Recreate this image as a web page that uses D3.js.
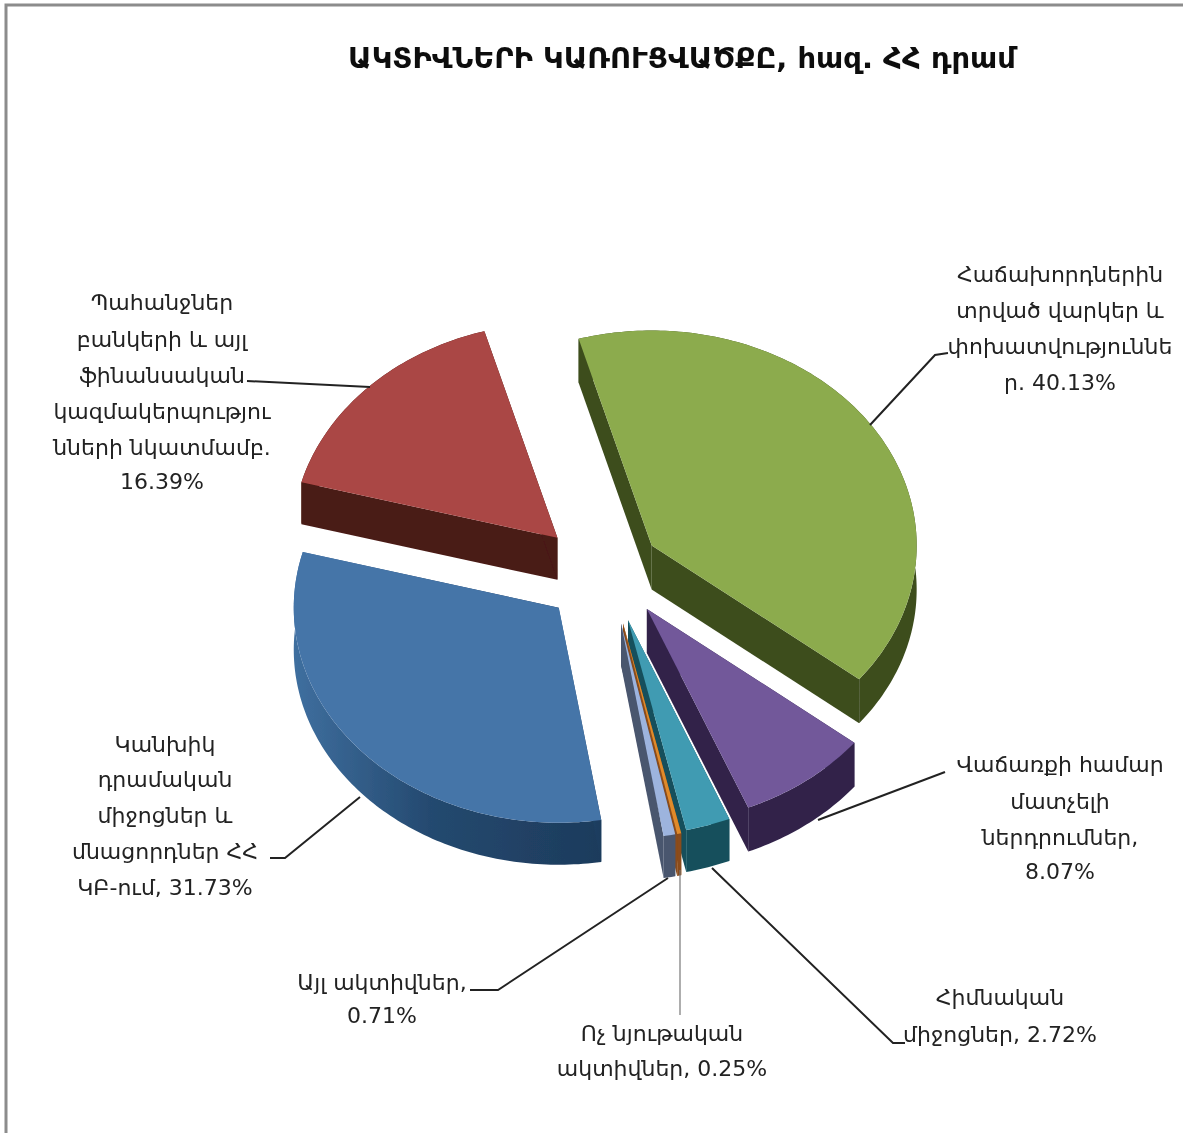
<!DOCTYPE html>
<html><head><meta charset="utf-8">
<script src="https://cdn.jsdelivr.net/npm/d3@7"></script>
<style>html,body{margin:0;padding:0;background:#fff}svg{display:block}
text{font-family:"DejaVu Sans",sans-serif;fill:#222}</style></head>
<body><div id="c"></div>
<script>
// Data
const categories = ["Loans","Trading","Fixed","Intangible","Other","Cash","Banks"];
const shares = [40.13, 8.07, 2.72, 0.25, 0.71, 31.73, 16.39];
const labels = [
 ["Հաճախորդներին","տրված վարկեր և","փոխատվություննե","ր. 40.13%"],
 ["Վաճառքի համար","մատչելի","ներդրումներ,","8.07%"],
 ["Հիմնական","միջոցներ, 2.72%"],
 ["Ոչ նյութական","ակտիվներ, 0.25%"],
 ["Այլ ակտիվներ,","0.71%"],
 ["Կանխիկ","դրամական","միջոցներ և","մնացորդներ ՀՀ","ԿԲ-ում, 31.73%"],
 ["Պահանջներ","բանկերի և այլ","ֆինանսական","կազմակերպությու","նների նկատմամբ.","16.39%"]
];
const titleText = "ԱԿՏԻՎՆԵՐԻ ԿԱՌՈՒՑՎԱԾՔԸ, հազ. ՀՀ դրամ";

// Styling & layout
const topColors = ["#8cab4e","#72589a","#3f9bb2","#e08a2c","#9db4de","#4574a8","#aa4644"];
const sideColors = ["#3d4d1e","#31234a","#14505c","#8a4c1a","#4a566e","url(#blueSide)","#4a1a14"];
const explode = [0.23,0.25,0.25,0.25,0.25,0.22,0.22];
const nudgeX = [1,7,8,9,9,2,-1];
const nudgeY = [-2,-9,-6,-4,-4,1,-4];
const depths = [44,44,42,42,42,42,42];
const drawOrder = [6,0,5,1,2,3,4];
const labelX = [1060,1060,1000,662,382,165,162];
const labelY = [
 [282,318,354,390],[772,809,845,879],[1005,1042],[1041,1076],[990,1023],[752,787,823,859,895],[310,347,383,419,455,489]
];
const leaders = [
 [[870,425],[935,355],[948,353]],
 [[818,820],[945,772]],
 [[712,868],[893,1043],[905,1043]],
 [[680,870],[680,1015]],
 [[668,878],[498,990],[470,990]],
 [[360,797],[285,858],[270,858]],
 [[370,387],[247,381]]
];
const W=1183,H=1133,cx=600,cy=575,rx=265,ry=215;

const svg=d3.select("#c").append("svg").attr("width",W).attr("height",H);
const defs=svg.append("defs");
const g=defs.append("linearGradient").attr("id","blueSide");
g.append("stop").attr("offset","0").attr("stop-color","#3f6f9f");
g.append("stop").attr("offset","0.45").attr("stop-color","#24496f");
g.append("stop").attr("offset","1").attr("stop-color","#1d3b5c");
defs.append("filter").attr("id","soft").append("feGaussianBlur").attr("stdDeviation",0.45);

svg.append("path").attr("d",`M6,${H}V5H${W}`).attr("fill","none").attr("stroke","#8c8c8c").attr("stroke-width",3);

const px=d3.scaleLinear().domain([-1,1]).range([-rx,rx]);
const py=d3.scaleLinear().domain([-1,1]).range([-ry,ry]);
const deg=Math.PI/180;
const pie=d3.pie().sort(null).startAngle(-16*deg).endAngle(344*deg);
const arcs=pie(shares);
const line=d3.line();

const layer=svg.append("g").attr("filter","url(#soft)");
drawOrder.forEach(i=>{
  const a=arcs[i], mid=(a.startAngle+a.endAngle)/2;
  const ox=cx+explode[i]*px(Math.sin(mid))+nudgeX[i], oy=cy-explode[i]*py(Math.cos(mid))+nudgeY[i];
  const pt=t=>[ox+px(Math.sin(t)),oy-py(Math.cos(t))];
  const n=Math.max(3,Math.ceil((a.endAngle-a.startAngle)/deg));
  const rim=d3.range(n+1).map(k=>pt(a.startAngle+(a.endAngle-a.startAngle)*k/n));
  const d=depths[i];
  const down=p=>[p[0],p[1]+d];
  const s=layer.append("g").attr("class","slice");
  const outer=rim.concat(rim.slice().reverse().map(down));
  s.append("path").attr("d",line(outer)+"Z").attr("fill",sideColors[i]);
  [rim[0],rim[n]].forEach(e=>{
    const o=[ox,oy];
    s.append("path").attr("d",line([o,e,down(e),down(o)])+"Z").attr("fill",sideColors[i]);
  });
  s.append("path").attr("d",line([[ox,oy]].concat(rim))+"Z").attr("fill",topColors[i]);
});

const lw=[2,2,2,1.2,2,2,2];
leaders.forEach((l,i)=>svg.append("path").attr("d",line(l)).attr("fill","none")
  .attr("stroke",i==3?"#777":"#222").attr("stroke-width",lw[i]));

const tl=svg.append("g").attr("filter","url(#soft)");
labels.forEach((ls,i)=>ls.forEach((t,j)=>tl.append("text")
  .attr("x",labelX[i]).attr("y",labelY[i][j]).attr("text-anchor","middle")
  .attr("font-size",22).text(t)));
tl.append("text").attr("x",682).attr("y",68).attr("text-anchor","middle")
  .attr("font-size",29).attr("font-weight","bold").style("fill","#111").text(titleText);
</script></body></html>
